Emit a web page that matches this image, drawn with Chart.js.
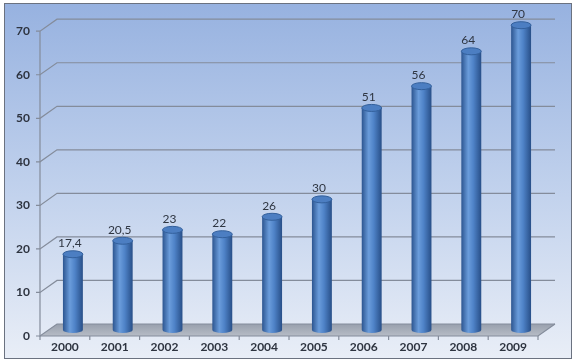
<!DOCTYPE html>
<html>
<head>
<meta charset="utf-8">
<script src="https://cdn.jsdelivr.net/npm/chart.js@4.4.0/dist/chart.umd.min.js"></script>
<style>
  html, body { margin: 0; padding: 0; background: #fff; }
  #wrap { width: 576px; height: 362px; }
</style>
</head>
<body>
<div id="wrap"><canvas id="mycanvas" width="576" height="362"></canvas></div>
<script>
var years = ['2000', '2001', '2002', '2003', '2004', '2005', '2006', '2007', '2008', '2009'];
var values = [17.4, 20.5, 23, 22, 26, 30, 51, 56, 64, 70];
var yTicks = [0, 10, 20, 30, 40, 50, 60, 70];

// 3d offsets of the front axis and back wall from the bar plane
var FRONT = {dx: -8, dy: 6};
var BACK = {dx: 9, dy: -6};

var fontFam = "Lato, 'Open Sans', sans-serif";

var frame3d = {
	id: 'frame3d',
	beforeDraw: function(chart) {
		var c = chart.ctx;
		var a = chart.chartArea;
		var y = chart.scales.y;
		c.save();
		c.fillStyle = '#fff';
		c.fillRect(0, 0, chart.width, chart.height);
		var bg = c.createLinearGradient(0, 4, 0, 359);
		bg.addColorStop(0, '#97b2e0');
		bg.addColorStop(0.5, '#bfd0ec');
		bg.addColorStop(1, '#e9eef7');
		c.fillStyle = bg;
		c.fillRect(4.5, 3.5, 567, 355);
		c.strokeStyle = '#6b7280';
		c.lineWidth = 1;
		c.strokeRect(4.5, 3.5, 567, 355);

		var fl = a.left + FRONT.dx, fr = a.right + FRONT.dx;
		var bl = a.left + BACK.dx, br = a.right + BACK.dx;

		// floor
		var y0 = y.getPixelForValue(0);
		c.beginPath();
		c.moveTo(fl, y0 + FRONT.dy);
		c.lineTo(bl, y0 + BACK.dy);
		c.lineTo(br, y0 + BACK.dy);
		c.lineTo(fr, y0 + FRONT.dy);
		c.closePath();
		var fg = c.createLinearGradient(0, y0 + BACK.dy, 0, y0 + FRONT.dy);
		fg.addColorStop(0, '#98a0ad');
		fg.addColorStop(1, '#b6bcc6');
		c.fillStyle = fg;
		c.fill();

		// grid lines on back wall
		c.strokeStyle = '#848c9b';
		c.lineWidth = 1.2;
		yTicks.forEach(function(v) {
			var py = y.getPixelForValue(v);
			c.beginPath();
			c.moveTo(fl - 4, py + FRONT.dy);
			c.lineTo(fl, py + FRONT.dy);
			c.lineTo(bl, py + BACK.dy);
			c.lineTo(br, py + BACK.dy);
			c.stroke();
		});
		// front vertical axis
		c.beginPath();
		c.moveTo(fl, y.getPixelForValue(70) + FRONT.dy);
		c.lineTo(fl, y0 + FRONT.dy);
		c.lineTo(fr, y0 + FRONT.dy);
		c.lineTo(br, y0 + BACK.dy);
		c.stroke();
		// x tick marks on the front edge
		var step = (fr - fl) / years.length;
		for (var i = 0; i <= years.length; i++) {
			c.beginPath();
			c.moveTo(fl + i * step, y0 + FRONT.dy);
			c.lineTo(fl + i * step, y0 + FRONT.dy + 4);
			c.stroke();
		}
		c.restore();
	},
	afterDatasetsDraw: function(chart) {
		var c = chart.ctx;
		var meta = chart.getDatasetMeta(0);
		c.save();
		meta.data.forEach(function(el, i) {
			var rx = el.width / 2;
			// rounded bottom
			var g = c.createLinearGradient(el.x - rx, 0, el.x + rx, 0);
			g.addColorStop(0, '#2c5590');
			g.addColorStop(0.35, '#6a9cdb');
			g.addColorStop(0.6, '#4f83c8');
			g.addColorStop(1, '#284f88');
			c.fillStyle = g;
			c.beginPath();
			c.ellipse(el.x, el.base, rx, 3, 0, 0, Math.PI);
			c.fill();
			// top cap
			c.beginPath();
			c.ellipse(el.x, el.y, rx, 3.5, 0, 0, Math.PI * 2);
			c.fillStyle = '#4c7ec2';
			c.fill();
			c.strokeStyle = '#33609c';
			c.lineWidth = 1;
			c.stroke();
			// value label
			c.fillStyle = '#2f3642';
			c.font = '12px ' + fontFam;
			c.textAlign = 'center';
			c.textBaseline = 'middle';
			c.fillText(String(values[i]).replace('.', ','), el.x - 3, el.y - 11);
		});
		c.restore();
	}
};

var ctx = document.getElementById('mycanvas');

var barGraph = new Chart(ctx, {
	type: 'bar',
	data: {
		labels: years,
		datasets: [{
			data: values,
			barPercentage: 0.4,
			categoryPercentage: 1,
			borderWidth: 0,
			backgroundColor: function(context) {
				var ch = context.chart;
				var xs = ch.scales.x;
				if (!xs || !ch.chartArea) return '#4a7cc0';
				var cx = xs.getPixelForValue(context.dataIndex);
				var w = (ch.chartArea.width / years.length) * 0.4;
				var g = ch.ctx.createLinearGradient(cx - w / 2, 0, cx + w / 2, 0);
				g.addColorStop(0, '#2c5590');
				g.addColorStop(0.35, '#6a9cdb');
				g.addColorStop(0.6, '#4f83c8');
				g.addColorStop(1, '#284f88');
				return g;
			}
		}]
	},
	options: {
		responsive: false,
		animation: false,
		layout: { padding: { left: 0, right: 30, top: 24, bottom: 0 } },
		plugins: { legend: { display: false }, tooltip: { enabled: false } },
		scales: {
			x: {
				grid: { display: false, drawTicks: false },
				border: { display: false },
				ticks: {
					padding: 10,
					labelOffset: FRONT.dx,
					color: '#2e3440',
					font: { family: fontFam, size: 12, weight: 'bold' }
				},
				afterFit: function(s) { s.height = 32; }
			},
			y: {
				min: 0,
				max: 70,
				grid: { display: false, drawTicks: false },
				border: { display: false },
				ticks: {
					stepSize: 10,
					padding: 18,
					labelOffset: FRONT.dy,
					color: '#2e3440',
					font: { family: fontFam, size: 12, weight: 'bold' }
				},
				afterFit: function(s) { s.width = 48; }
			}
		}
	},
	plugins: [frame3d]
});
</script>
</body>
</html>
